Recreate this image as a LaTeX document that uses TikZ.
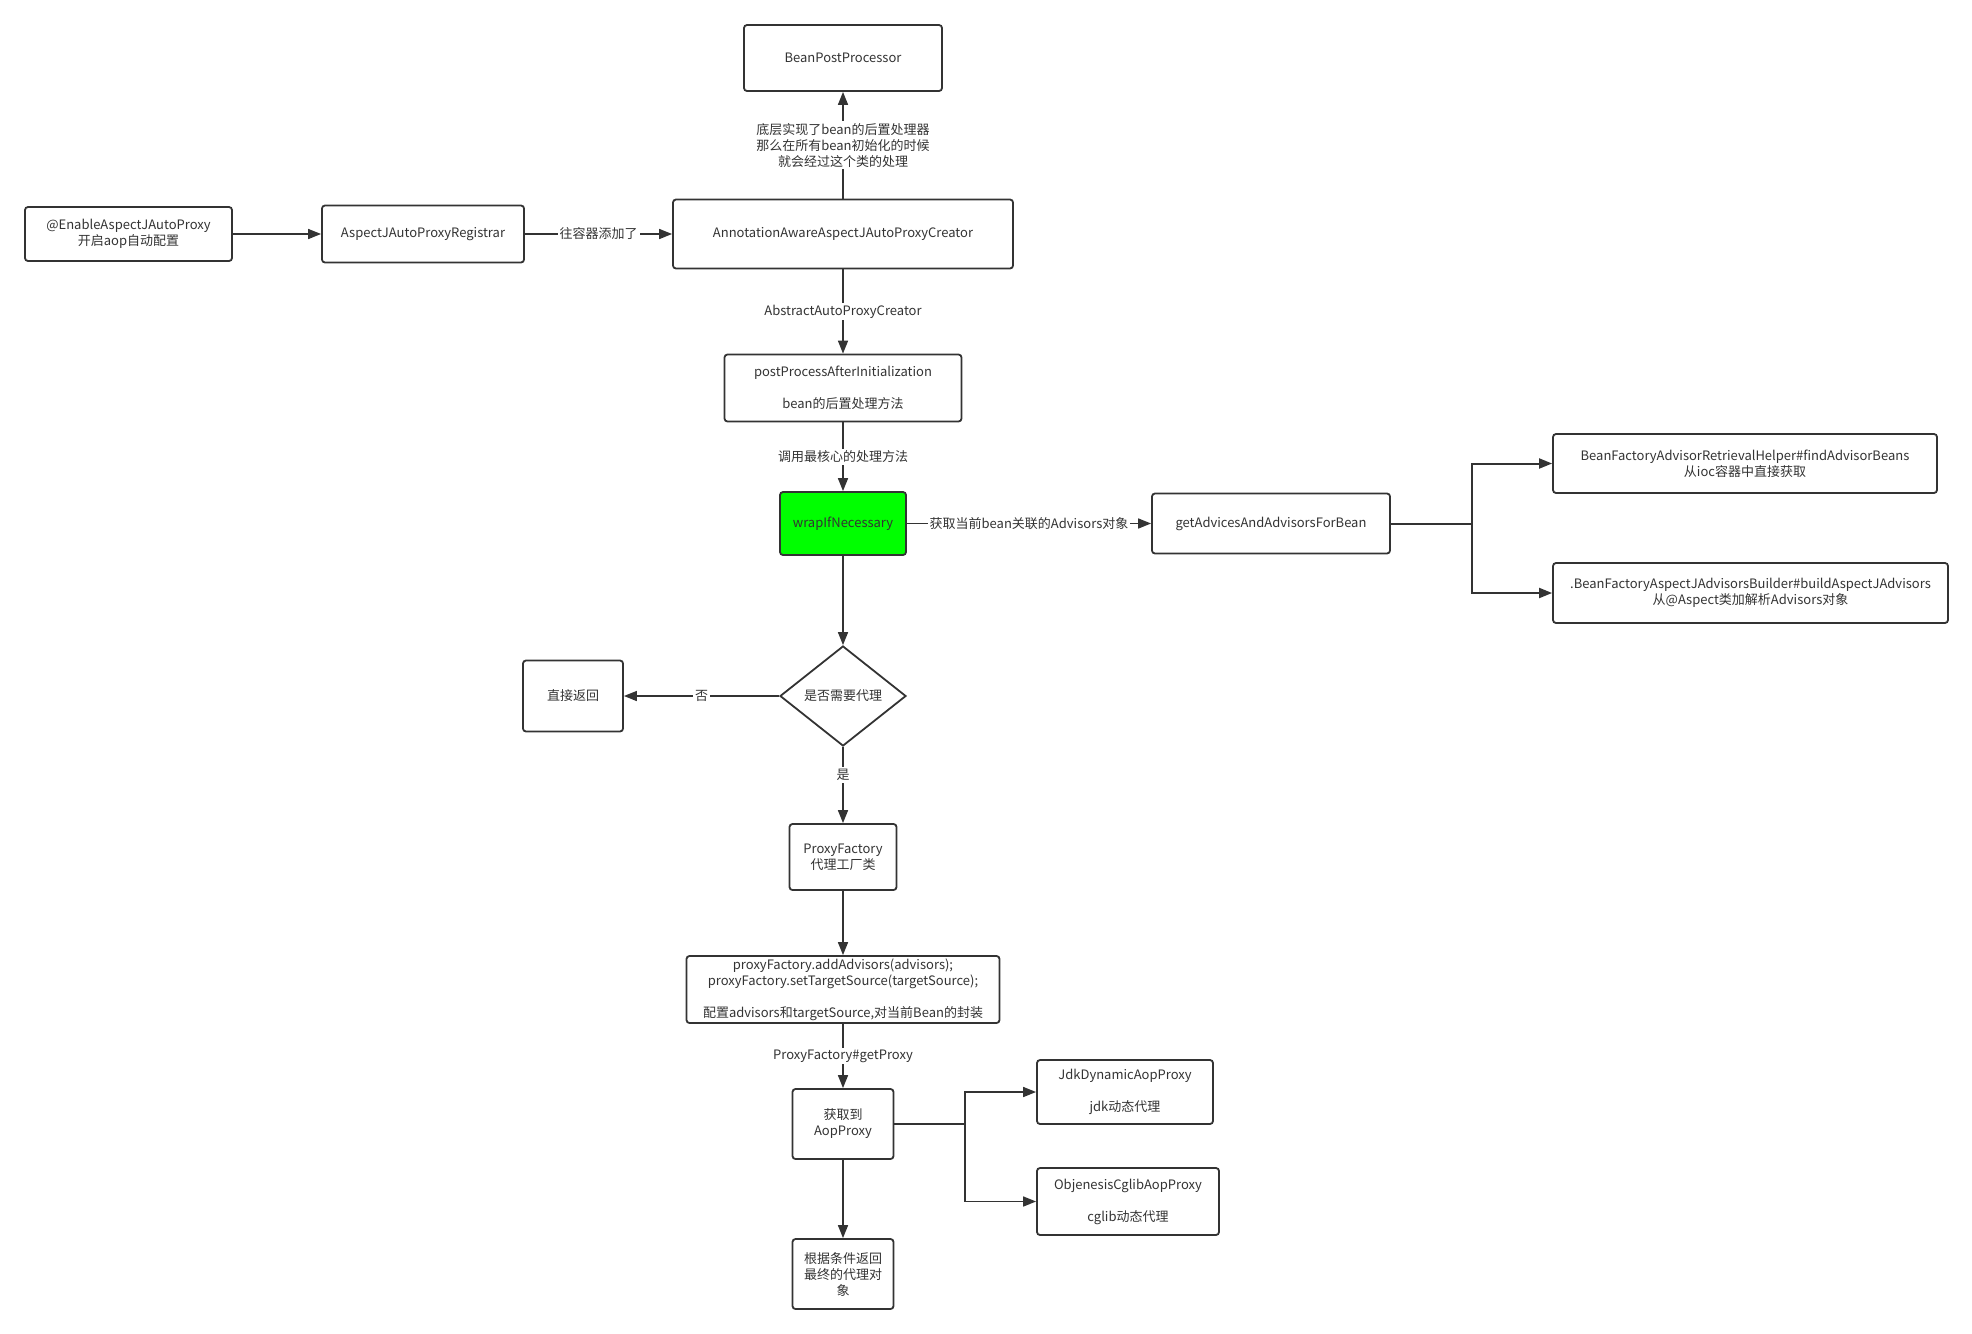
\documentclass[tikz,border=0pt]{standalone}
\usepackage{fontspec}
\setmainfont{Noto Sans CJK SC}
\usepackage{tikz}
\usetikzlibrary{arrows.meta, positioning, calc, shapes.geometric}
\definecolor{linegray}{HTML}{333333}
\definecolor{wrapgreen}{HTML}{00FF00}

\begin{document}
\begin{tikzpicture}[x=0.5pt, y=-0.5pt, >={Triangle[length=6.5pt, width=5pt]},
        every node/.style={font=\fontsize{6.5pt}{8pt}\selectfont, text=linegray},
        box/.style={draw=linegray, line width=0.9pt, rounded corners=1.5pt, align=center, inner sep=0pt},
        link/.style={->, draw=linegray, line width=0.8pt},
        lbl/.style={fill=white, inner sep=1pt, align=center}]
        \useasboundingbox (0,0) rectangle (1972,1334);
        % registration chain
        \node[box, minimum width=99pt, minimum height=33pt] (bpp) at (843,58) {BeanPostProcessor};
        \node[box, minimum width=103.5pt, minimum height=27pt] (enable) at (128.5,234) {@EnableAspectJAutoProxy\\开启aop自动配置};
        \node[box, minimum width=101pt, minimum height=28.5pt] (registrar) at (423,234) {AspectJAutoProxyRegistrar};
        \node[box, minimum width=170pt, minimum height=34.5pt] (creator) at (843,234) {AnnotationAwareAspectJAutoProxyCreator};
        \node[box, minimum width=118.5pt, minimum height=33.5pt] (after) at (843,388) {postProcessAfterInitialization\\[8pt]bean的后置处理方法};
        % core method and advisor lookup
        \node[box, fill=wrapgreen, minimum width=63pt, minimum height=31.5pt] (wrap) at (843,523.5) {wrapIfNecessary};
        \node[box, minimum width=119pt, minimum height=30pt] (advices) at (1271,523.5) {getAdvicesAndAdvisorsForBean};
        \node[box, minimum width=192pt, minimum height=29.5pt] (helper) at (1745,463.5) {BeanFactoryAdvisorRetrievalHelper\#findAdvisorBeans\\从ioc容器中直接获取};
        \node[box, minimum width=197.5pt, minimum height=30pt] (builder) at (1750.5,593) {.BeanFactoryAspectJAdvisorsBuilder\#buildAspectJAdvisors\\从@Aspect类加解析Advisors对象};
        % decision
        \node[draw=linegray, line width=0.9pt, diamond, minimum width=63pt, minimum height=50pt, inner sep=0pt] (need) at (843,696) {是否需要代理};
        \node[box, minimum width=50pt, minimum height=35.5pt] (direct) at (573,696) {直接返回};
        % proxy creation
        \node[box, minimum width=53.5pt, minimum height=33pt] (factory) at (843,857) {ProxyFactory\\代理工厂类};
        \node[box, minimum width=156.5pt, minimum height=33.5pt] (config) at (843,989.5) {proxyFactory.addAdvisors(advisors);\\proxyFactory.setTargetSource(targetSource);\\[8pt]配置advisors和targetSource,对当前Bean的封装};
        \node[box, minimum width=50.5pt, minimum height=35pt] (aop) at (843,1124) {获取到\\AopProxy};
        \node[box, minimum width=50.5pt, minimum height=35pt] (result) at (843,1274) {根据条件返回\\最终的代理对\\象};
        \node[box, minimum width=88pt, minimum height=32pt] (jdk) at (1125,1092) {JdkDynamicAopProxy\\[8pt]jdk动态代理};
        \node[box, minimum width=91pt, minimum height=33.5pt] (cglib) at (1128,1201.5) {ObjenesisCglibAopProxy\\[8pt]cglib动态代理};
        % connectors
        \draw[link] (creator) -- node[lbl] {底层实现了bean的后置处理器\\那么在所有bean初始化的时候\\就会经过这个类的处理} (bpp);
        \draw[link] (enable) -- (registrar);
        \draw[link] (registrar) -- node[lbl] {往容器添加了} (creator);
        \draw[link] (creator) -- node[lbl] {AbstractAutoProxyCreator} (after);
        \draw[link] (after) -- node[lbl] {调用最核心的处理方法} (wrap);
        \draw[link] (wrap) -- node[lbl] {获取当前bean关联的Advisors对象} (advices);
        \coordinate (fork) at (1472,523.5);
        \draw[link, line width=1pt] (advices.east) -- (fork) |- (helper.west);
        \draw[link, line width=1pt] (fork) |- (builder.west);
        \draw[link] (wrap) -- (need);
        \draw[link] (need) -- node[lbl] {否} (direct);
        \draw[link] (need) -- node[lbl, pos=0.37] {是} (factory);
        \draw[link] (factory) -- (config);
        \draw[link] (config) -- node[lbl] {ProxyFactory\#getProxy} (aop);
        \coordinate (split) at (965,1124);
        \draw[link] (aop.east) -- (split) |- (jdk.west);
        \draw[link] (split) |- (cglib.west);
        \draw[link] (aop) -- (result);
    \end{tikzpicture}
\end{document}
